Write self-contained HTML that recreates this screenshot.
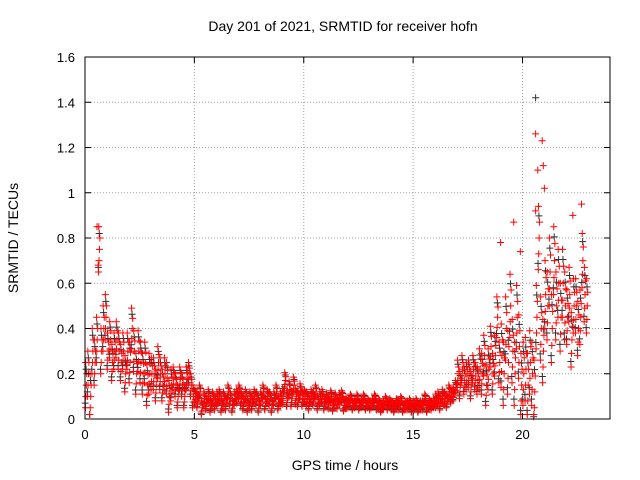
<!DOCTYPE html>
<html><head><meta charset="utf-8"><style>
body{margin:0;background:#fff;}
svg{display:block;font-family:"Liberation Sans",sans-serif;}
</style></head><body>
<svg id="chart" width="640" height="480">
<text x="343" y="31" text-anchor="middle" font-size="14">Day 201 of 2021, SRMTID for receiver hofn</text>
<text x="345" y="470" text-anchor="middle" font-size="14">GPS time / hours</text>
<text transform="translate(18,238) rotate(-90)" text-anchor="middle" font-size="14">SRMTID / TECUs</text>
<g id="grid"></g><g id="marks"></g><g id="axes"></g>
</svg>
<script>
const xTicks=[0,5,10,15,20];
const yTicks=[0,0.2,0.4,0.6,0.8,1,1.2,1.4,1.6];
const yTickLabels=["0","0.2","0.4","0.6","0.8","1","1.2","1.4","1.6"];
const values=[
0.15,0.2,0.1,0.3,0.25,0.35,0.75,0.3,0.4,0.45,
0.3,0.35,0.25,0.3,0.35,0.3,0.25,0.3,0.2,0.3,
0.25,0.4,0.3,0.2,0.3,0.25,0.2,0.25,0.15,0.2,
0.2,0.2,0.15,0.25,0.2,0.15,0.2,0.18,0.1,0.15,
0.18,0.15,0.1,0.18,0.15,0.1,0.18,0.2,0.15,0.1,
0.1,0.08,0.12,0.05,0.09,0.07,0.1,0.06,0.09,0.07,
0.09,0.1,0.06,0.09,0.07,0.12,0.09,0.06,0.09,0.1,
0.12,0.09,0.07,0.1,0.06,0.09,0.07,0.1,0.09,0.06,
0.09,0.12,0.07,0.1,0.09,0.06,0.09,0.12,0.07,0.09,
0.1,0.17,0.09,0.13,0.09,0.15,0.1,0.09,0.12,0.09,
0.1,0.09,0.07,0.1,0.09,0.12,0.07,0.09,0.1,0.07,
0.09,0.07,0.1,0.06,0.09,0.07,0.09,0.1,0.06,0.07,
0.07,0.09,0.06,0.07,0.09,0.06,0.07,0.09,0.06,0.07,
0.06,0.07,0.09,0.06,0.07,0.05,0.06,0.08,0.06,0.07,
0.06,0.05,0.07,0.06,0.08,0.05,0.06,0.06,0.07,0.05,
0.06,0.07,0.05,0.06,0.06,0.09,0.05,0.07,0.06,0.07,
0.08,0.09,0.07,0.1,0.09,0.08,0.12,0.1,0.11,0.14,
0.2,0.15,0.22,0.17,0.19,0.2,0.15,0.22,0.19,0.17,
0.22,0.2,0.28,0.15,0.22,0.32,0.2,0.28,0.45,0.25,
0.28,0.2,0.4,0.25,0.5,0.3,0.2,0.45,0.32,0.15,
0.2,0.22,0.15,0.25,0.2,0.12,0.45,0.8,0.4,0.3,
0.55,0.5,0.65,0.4,0.7,0.5,0.6,0.45,0.6,0.5,
0.45,0.55,0.35,0.5,0.5,0.4,0.45,0.7,0.55,0.5];
const spread=[0.1,0.08,0.09,0.07,0.05,0.03,0.03,0.03,0.03,0.035,0.03,0.025,0.02,0.02,0.02,0.02,0.03,0.06,0.09,0.14,0.14,0.15,0.12,0.1];
const outlierTimes=[20.6,20.6,20.7,20.9,20.95,21.0,20.6,19.6,0.55,0.6,19.0,19.9,22.7,22.3];
const outlierValues=[1.42,1.26,1.1,1.23,1.12,1.02,0.92,0.87,0.85,0.68,0.78,0.74,0.95,0.9];
const timeStep=0.1;
const L=85,R=610,T=57,B=419,XMAX=24,YMAX=1.6;
const sx=v=>L+v/XMAX*(R-L), sy=v=>B-v/YMAX*(B-T);
const NS="http://www.w3.org/2000/svg";
function mk(tag,attrs,parent){const e=document.createElementNS(NS,tag);for(const k in attrs)e.setAttribute(k,attrs[k]);parent.appendChild(e);return e;}
const grid=document.getElementById('grid'),axes=document.getElementById('axes'),marks=document.getElementById('marks');
xTicks.forEach(t=>{const x=sx(t);
 if(t>0){const g=mk('line',{x1:x,x2:x,y1:T,y2:B,stroke:'#a0a0a0','stroke-dasharray':'1,2'},grid);
 
 }
 mk('line',{x1:x,x2:x,y1:B,y2:B-6,stroke:'#000'},axes);mk('line',{x1:x,x2:x,y1:T,y2:T+6,stroke:'#000'},axes);
 const tx=mk('text',{x:x,y:B+20,'text-anchor':'middle','font-size':'13'},axes);tx.textContent=t;
 
 });
yTicks.forEach((t,i)=>{const y=sy(t);
 if(t>0&&t<YMAX){const g=mk('line',{x1:L,x2:R,y1:y,y2:y,stroke:'#a0a0a0','stroke-dasharray':'1,2'},grid);
 
 }
 mk('line',{x1:L,x2:L+6,y1:y,y2:y,stroke:'#000'},axes);mk('line',{x1:R,x2:R-6,y1:y,y2:y,stroke:'#000'},axes);
 const tx=mk('text',{x:L-10,y:y+5,'text-anchor':'end','font-size':'13'},axes);tx.textContent=yTickLabels[i];
 
 });
const frame=mk('rect',{x:L,y:T,width:R-L,height:B-T,fill:'none',stroke:'#000'},axes);


function plus(x,y,c){const p=mk('path',{d:`M${x-3.5},${y}h7M${x},${y-3.5}v7`,stroke:c,'stroke-width':1,fill:'none'},marks);
 
 }
const offs=[[-1,0.02],[-0.5,0.04],[0,0.06],[0.5,0.08],[1,0.03]];
values.forEach((v,i)=>{const t=i*timeStep,s=spread[Math.min(23,Math.floor(t))];
 plus(sx(t+0.05),sy(Math.max(0.01,v+s*0.7)),'#303030');
 plus(sx(t+0.01),sy(Math.max(0.01,v-s*0.8)),'#303030');});
values.forEach((v,i)=>{const t=i*timeStep,s=spread[Math.min(23,Math.floor(t))];
 offs.forEach(o=>plus(sx(t+o[1]),sy(Math.max(0.02,v+o[0]*s)),'#ff0000'));});
outlierValues.forEach((v,i)=>plus(sx(outlierTimes[i]),sy(v),i===0?'#303030':'#ff0000'));
</script>
</body></html>
